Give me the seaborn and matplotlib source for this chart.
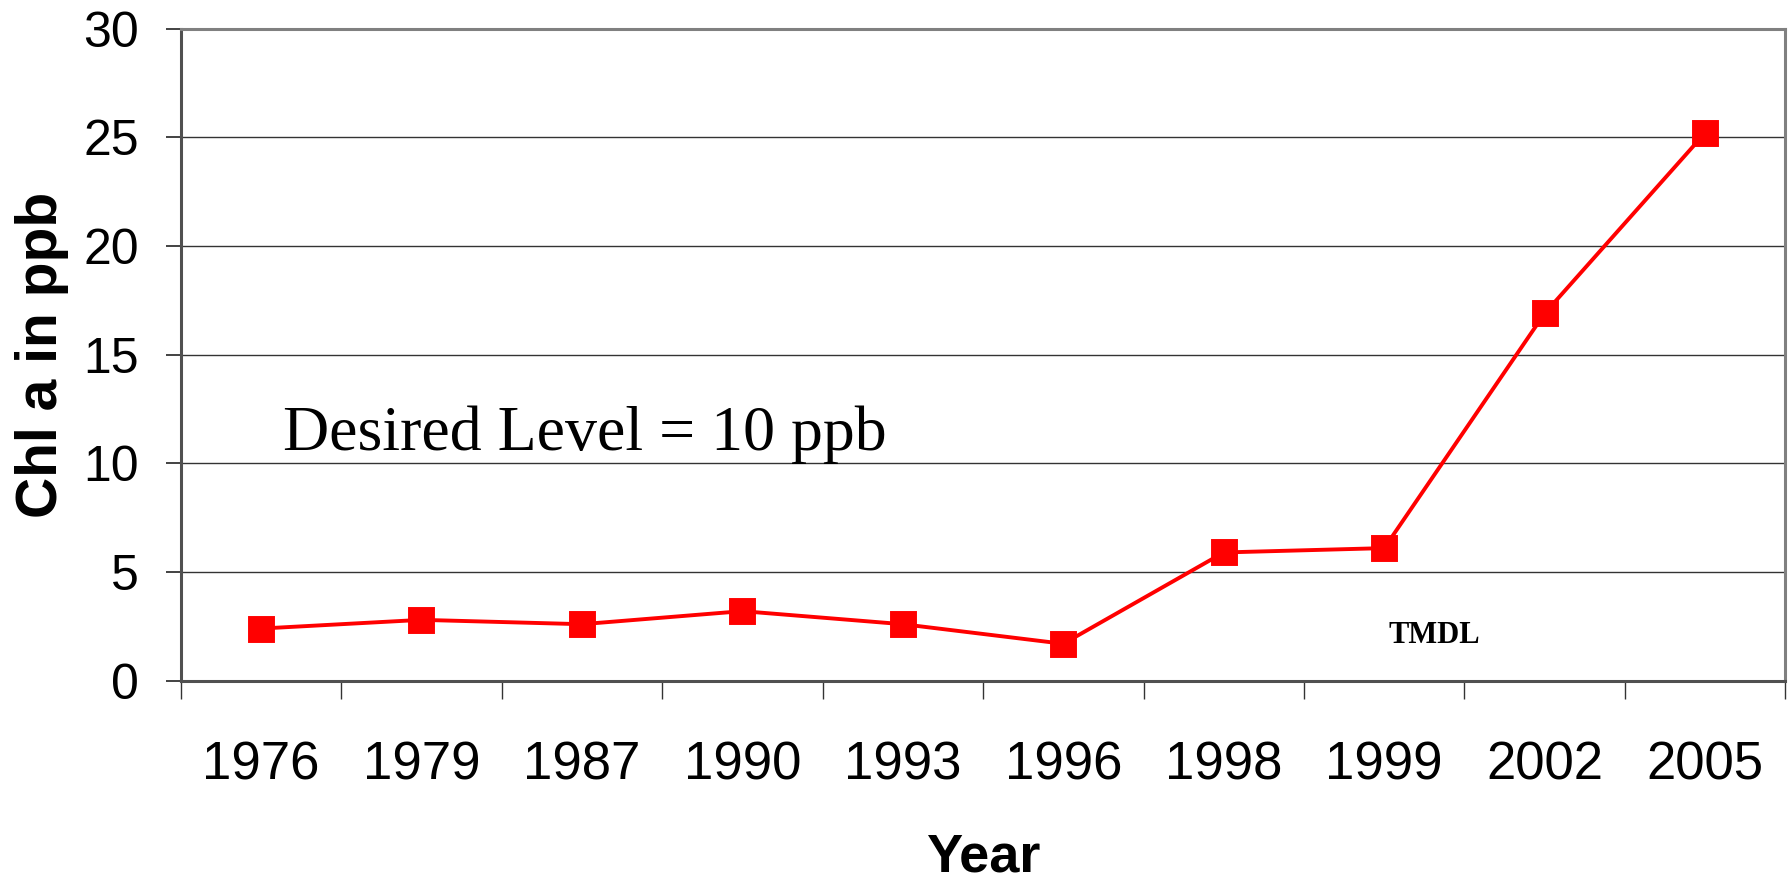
import numpy as np
import pandas as pd
import seaborn as sns
import matplotlib.pyplot as plt
from matplotlib.ticker import FixedLocator

# Chlorophyll a readings per sampling year
years = ['1976', '1979', '1987', '1990', '1993', '1996', '1998', '1999', '2002', '2005']
chl_a = [2.4, 2.8, 2.6, 3.2, 2.6, 1.7, 5.9, 6.1, 16.9, 25.2]
y_ticks = [0, 5, 10, 15, 20, 25, 30]

df = pd.DataFrame({'Year': years, 'Chl a': chl_a})

sns.set_style('white')
plt.rcParams['font.family'] = ['Liberation Sans', 'DejaVu Sans']
plt.rcParams['text.color'] = 'black'
plt.rcParams['axes.labelcolor'] = 'black'
plt.rcParams['xtick.color'] = 'black'
plt.rcParams['ytick.color'] = 'black'

fig = plt.figure(figsize=(17.89, 8.91), dpi=100)
ax = fig.add_axes([0.101, 0.236, 0.897, 0.732])

sns.pointplot(data=df, x='Year', y='Chl a', color='#ff0000', marker='s',
              markersize=17, linewidth=2.8, errorbar=None, ax=ax)

ax.set_ylim(0, 30)
ax.set_xlim(-0.5, len(years) - 0.5)
ax.set_yticks(y_ticks)
ax.yaxis.grid(True, color='#333333', linewidth=1.0)
ax.set_axisbelow(True)

# ticks between categories, labels centered on categories
ax.xaxis.set_minor_locator(FixedLocator(np.arange(-0.5, len(years), 1.0)))
ax.tick_params(axis='x', which='major', length=0, pad=43, labelsize=38)
ax.tick_params(axis='x', which='minor', length=13, width=1, color='#333333',
               direction='out', bottom=True)
ax.tick_params(axis='y', length=11, width=1.2, color='#222222',
               direction='out', left=True, pad=19, labelsize=36)

ax.set_xlabel('Year', fontsize=39, fontweight='bold', labelpad=30)
ax.set_ylabel('Chl a in ppb', fontsize=41, fontweight='bold', labelpad=10)

for side in ['top', 'right']:
    ax.spines[side].set_color('#808080')
    ax.spines[side].set_linewidth(2.2)
for side in ['left', 'bottom']:
    ax.spines[side].set_color('#505050')
    ax.spines[side].set_linewidth(2.2)

ax.text(0.135, 10.6, 'Desired Level = 10 ppb', fontsize=46, color='black',
        family=['Liberation Serif', 'DejaVu Serif'], va='baseline', ha='left')
ax.text(7.31, 2.1, 'TMDL', fontsize=22, fontweight='bold', color='black',
        family=['Liberation Serif', 'DejaVu Serif'], va='center', ha='center')

fig.savefig('out.png', dpi=100)
plt.close()
